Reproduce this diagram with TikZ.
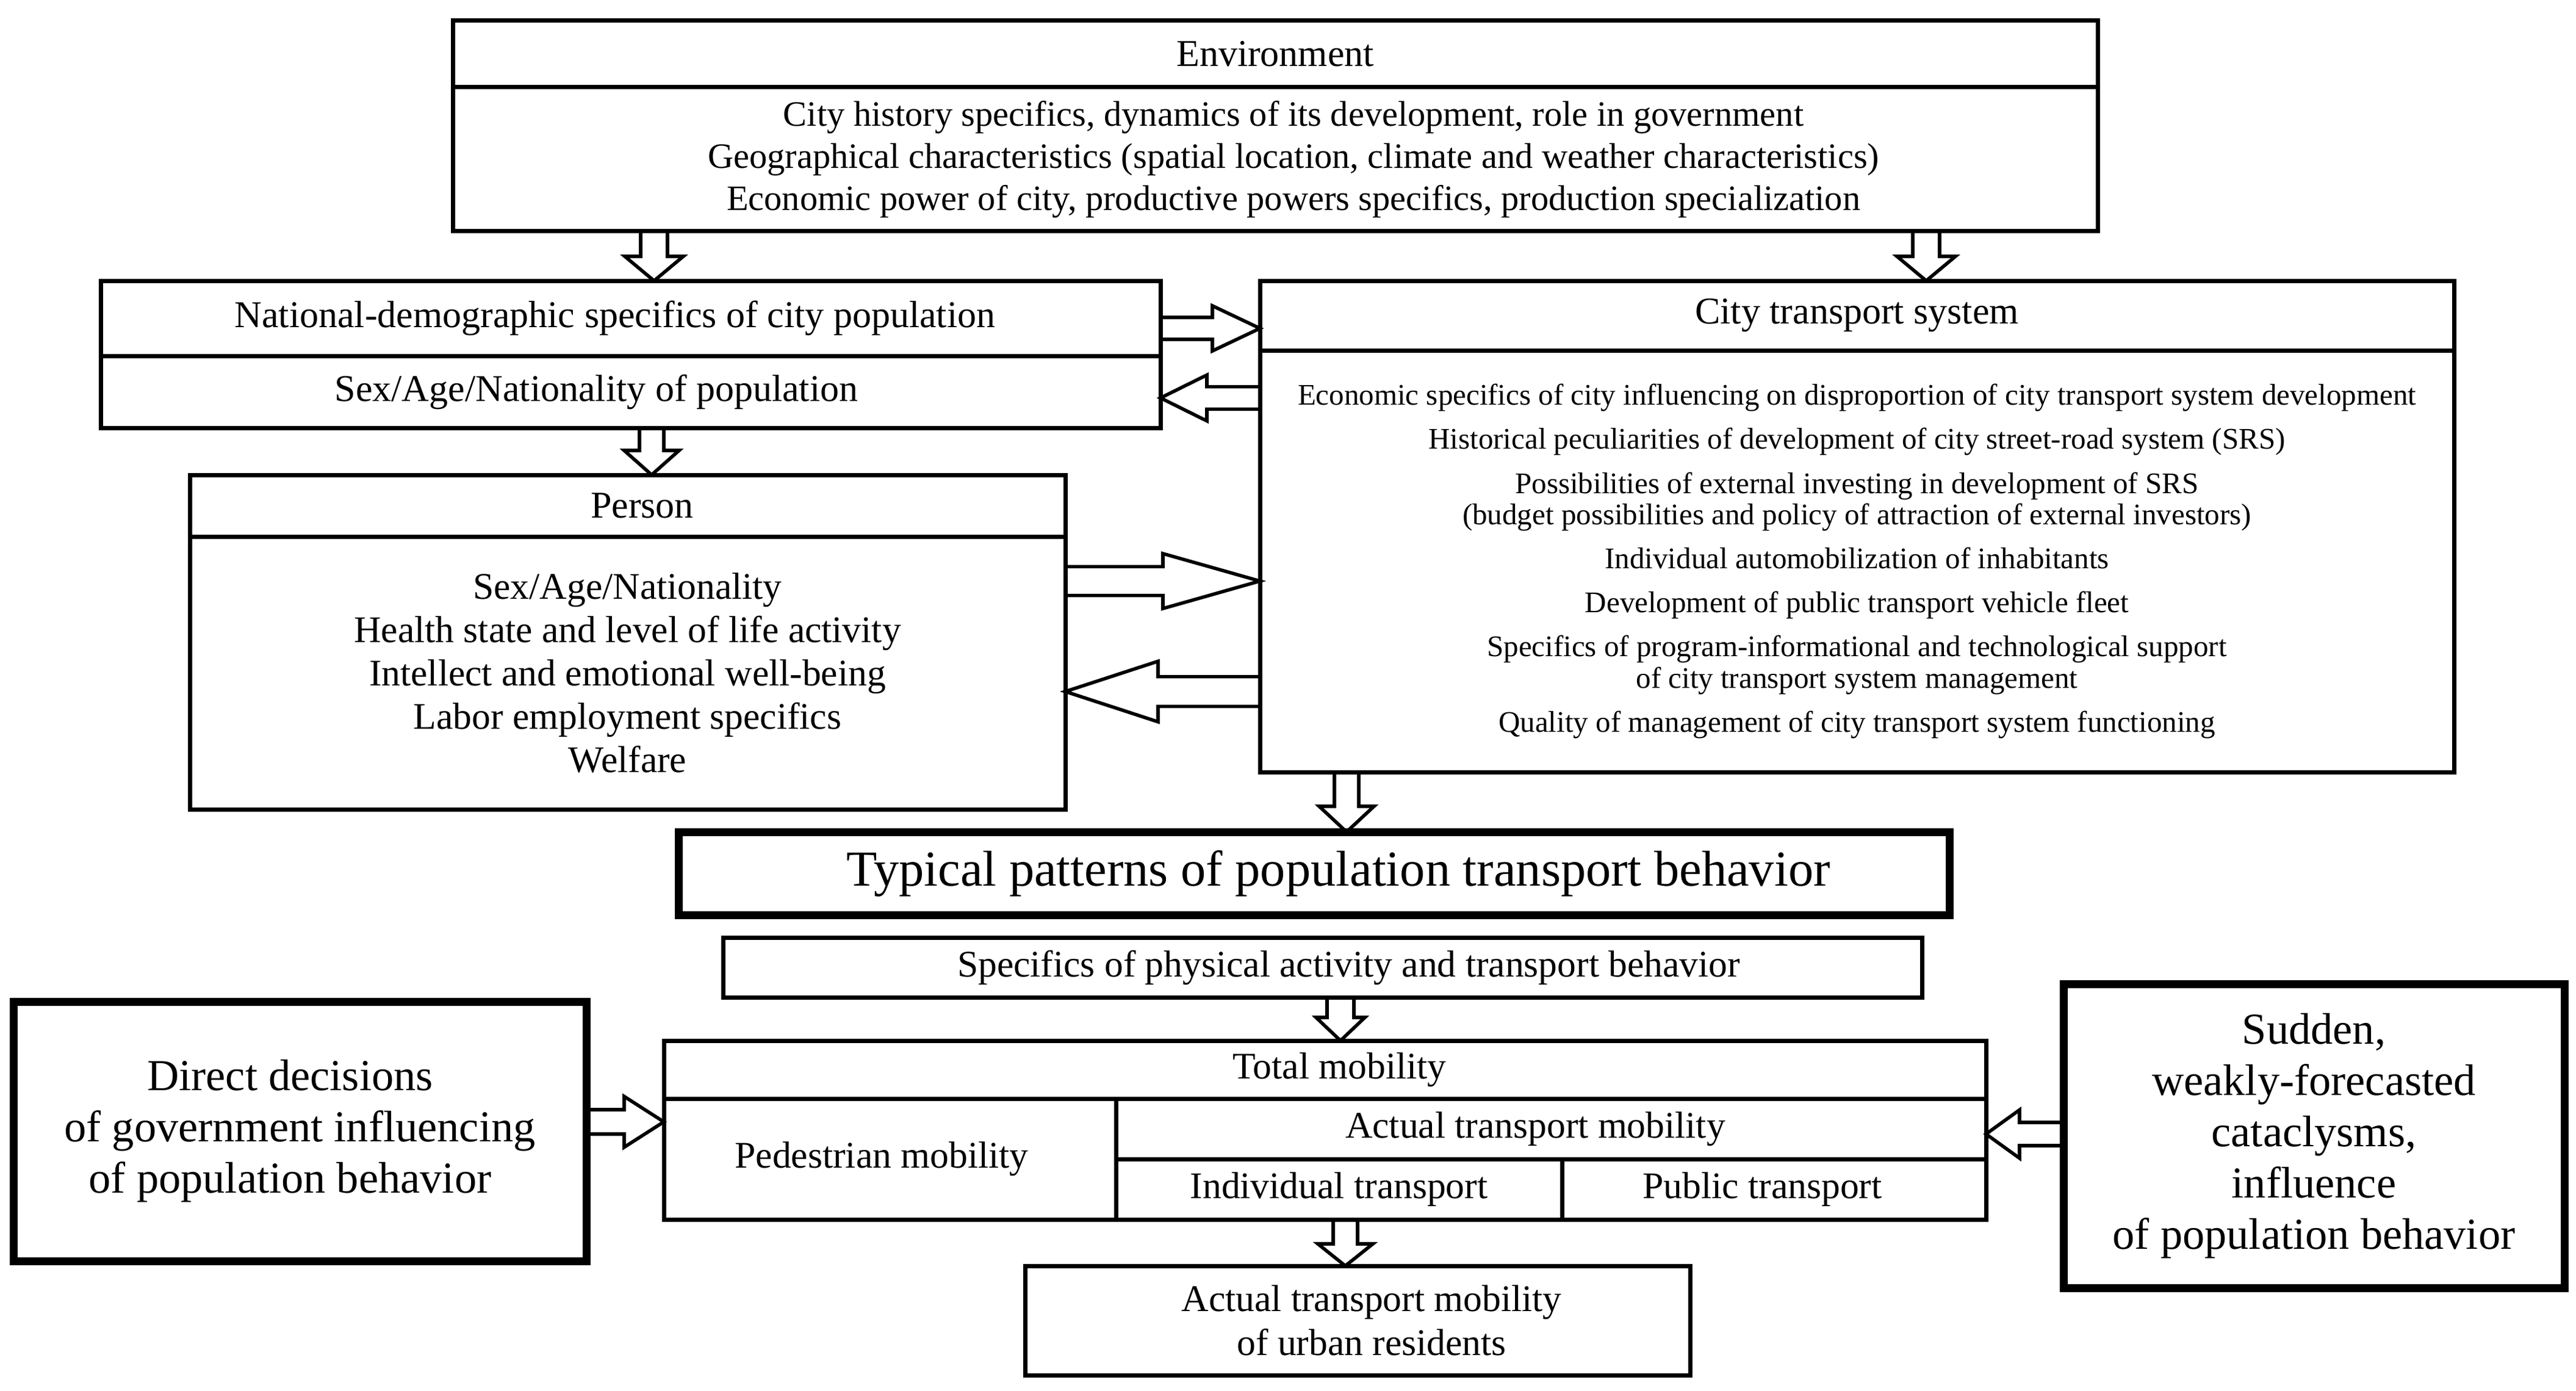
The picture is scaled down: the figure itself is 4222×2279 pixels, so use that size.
\documentclass[tikz,border=0pt]{standalone}
\usepackage{fontspec}
\setmainfont{Liberation Serif}
\usetikzlibrary{calc,positioning,backgrounds}

\begin{document}
\begin{tikzpicture}[
x=0.25pt, y=-0.25pt,
box/.style={rectangle, draw, line width=1.75pt, inner sep=0pt, outer sep=0pt, align=center},
bold box/.style={box, line width=3.25pt},
fat shaft/.store in=\fatshaft, fat wing/.store in=\fatwing, fat head/.store in=\fathead,
fat shaft=5.5pt, fat wing=12pt, fat head=10pt,
fat/.style={draw, fill=white, line width=1.4pt, line join=miter, to path={
  let \p1=(\tikztostart), \p2=(\tikztotarget), \p3=($(\p2)!\fathead!(\p1)$) in
  ($(\p1)!\fatshaft!90:(\p2)$) -- ($(\p3)!\fatshaft!90:(\p2)$) -- ($(\p3)!\fatwing!90:(\p2)$)
  -- (\p2) -- ($(\p3)!\fatwing!-90:(\p2)$) -- ($(\p3)!\fatshaft!-90:(\p2)$) -- ($(\p1)!\fatshaft!-90:(\p2)$)}},
headfont/.style={font=\fontsize{15.5}{17}\selectfont},
envfont/.style={font=\fontsize{14.6}{17.2}\selectfont},
perfont/.style={font=\fontsize{15.4}{17.7}\selectfont},
smallfont/.style={font=\fontsize{12.25}{12.8}\selectfont},
bigfont/.style={font=\fontsize{20.6}{23}\selectfont},
sidefont/.style={font=\fontsize{18.1}{21}\selectfont},
mobfont/.style={font=\fontsize{15.4}{18.2}\selectfont}]
\useasboundingbox (0,0) rectangle (4222,2279);

% environment
\node[box, headfont, minimum width=674pt, minimum height=27.25pt] (envhead) at (2090,88.5) {Environment};
\node[box, envfont, minimum width=674pt, minimum height=59pt, below=0pt of envhead] (envbody) {\hspace*{15pt}City history specifics, dynamics of its development, role in government\\
\hspace*{15pt}Geographical characteristics (spatial location, climate and weather characteristics)\\
\hspace*{15pt}Economic power of city, productive powers specifics, production specialization};

% population
\node[box, headfont, minimum width=434.25pt, minimum height=30.75pt] (nathead) at (1033.5,521.5) {National-demographic specifics of city population\hspace*{12.8pt}};
\node[box, headfont, minimum width=434.25pt, minimum height=29.5pt, below=0pt of nathead] (natbody) {Sex/Age/Nationality of population\hspace*{28pt}};

\node[box, headfont, minimum width=358.75pt, minimum height=25.25pt] (perhead) at (1028.5,828.5) {\hspace*{12pt}Person};
\node[box, perfont, minimum width=358.75pt, minimum height=111.75pt, below=0pt of perhead] (perbody) {Sex/Age/Nationality\\
Health state and level of life activity\\
Intellect and emotional well-being\\
Labor employment specifics\\
Welfare};

% transport system
\node[box, headfont, minimum width=489.25pt, minimum height=28.5pt] (ctshead) at (3043.5,517) {City transport system};
\node[box, smallfont, minimum width=489.25pt, minimum height=172.75pt, below=0pt of ctshead] (ctsbody) {Economic specifics of city influencing on disproportion of city transport system development\\[5.25pt]
Historical peculiarities of development of city street-road system (SRS)\\[5.25pt]
Possibilities of external investing in development of SRS\\
(budget possibilities and policy of attraction of external investors)\\[5.25pt]
Individual automobilization of inhabitants\\[5.25pt]
Development of public transport vehicle fleet\\[5.25pt]
Specifics of program-informational and technological support\\
of city transport system management\\[5.25pt]
Quality of management of city transport system functioning};

% behavior
\node[bold box, bigfont, minimum width=520.75pt, minimum height=34pt] (typical) at (2153.5,1431) {\hspace*{20pt}Typical patterns of population transport behavior};
\node[box, mobfont, minimum width=491.25pt, minimum height=24.5pt] (physact) at (2167.5,1585) {\hspace*{21.5pt}Specifics of physical activity and transport behavior};

% mobility
\node[box, mobfont, minimum width=541.75pt, minimum height=23.75pt] (total) at (2171.5,1752.5) {\hspace*{12pt}Total mobility};
\node[box, mobfont, minimum width=185.25pt, minimum height=49.5pt] (walk) at (1458.5,1899) {Pedestrian mobility\hspace*{6.8pt}};
\node[box, mobfont, minimum width=356.5pt, minimum height=24.75pt] (actual) at (2542,1849.5) {Actual transport mobility\hspace*{12.8pt}};
\node[box, mobfont, minimum width=182.75pt, minimum height=24.75pt] (indiv) at (2194.5,1948.5) {Individual transport};
\node[box, mobfont, minimum width=173.75pt, minimum height=24.75pt] (public) at (2907.5,1948.5) {Public transport\hspace*{9.5pt}};
\node[box, mobfont, minimum width=272.5pt, minimum height=44.75pt] (result) at (2225,2163.5) {\hspace*{11.5pt}Actual transport mobility\\\hspace*{11.5pt}of urban residents};

\node[bold box, sidefont, minimum width=234.75pt, minimum height=106.25pt] (gov) at (491.5,1853.5) {Direct decisions\hspace*{8pt}\\of government influencing\hspace*{8pt}\\of population behavior\hspace*{8pt}};
\node[bold box, sidefont, minimum width=205.25pt, minimum height=124.5pt] (sudden) at (3792.5,1861) {Sudden,\\weakly-forecasted\\cataclysms,\\influence\\of population behavior};

\begin{scope}[on background layer]
\draw[fat] (1072,0 |- envbody.south) to (1072,0 |- nathead.north);
\draw[fat] (3157,0 |- envbody.south) to (3157,0 |- ctshead.north);
\draw[fat, fat shaft=4.5pt, fat wing=9.25pt, fat head=19.5pt] (nathead.east |- 0,538) to (ctshead.west |- 0,538);
\draw[fat, fat shaft=4.6pt, fat wing=9.4pt, fat head=19pt] (ctsbody.west |- 0,652) to (natbody.east |- 0,652);
\draw[fat, fat shaft=5pt, fat wing=11.25pt] (1068,0 |- natbody.south) to (1068,0 |- perhead.north);
\draw[fat, fat shaft=5.9pt, fat wing=11.25pt, fat head=39.75pt] (perbody.east |- 0,952) to (ctsbody.west |- 0,952);
\draw[fat, fat shaft=6.1pt, fat wing=12.4pt, fat head=38pt] (ctsbody.west |- 0,1133) to (perbody.east |- 0,1133);
\draw[fat, fat shaft=5pt, fat wing=11.25pt, fat head=10.5pt] (2207,0 |- ctsbody.south) to (2207,0 |- typical.north);
\draw[fat, fat shaft=5.5pt, fat wing=10pt, fat head=9.5pt] (2197,0 |- physact.south) to (2197,0 |- total.north);
\draw[fat, fat shaft=5pt, fat wing=11.25pt, fat head=9pt] (2205,0 |- walk.south) to (2205,0 |- result.north);
\draw[fat, fat shaft=5pt, fat wing=10.4pt, fat head=16.25pt] (gov.east |- 0,1838) to (total.west |- 0,1838);
\draw[fat, fat shaft=4.75pt, fat wing=9.9pt, fat head=13.75pt] (sudden.west |- 0,1858) to (public.east |- 0,1858);
\end{scope}
\end{tikzpicture}
\end{document}
